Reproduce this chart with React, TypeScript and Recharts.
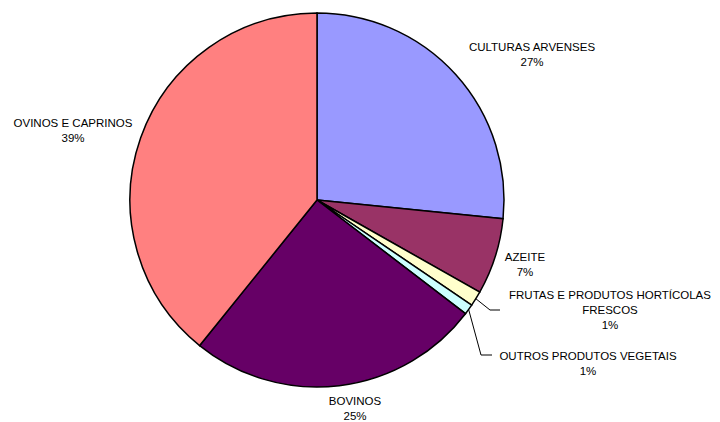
import { PieChart, Pie, Cell } from 'recharts';

const categories = [
  'CULTURAS ARVENSES',
  'AZEITE',
  'FRUTAS E PRODUTOS HORTÍCOLAS\nFRESCOS',
  'OUTROS PRODUTOS VEGETAIS',
  'BOVINOS',
  'OVINOS E CAPRINOS',
];
const shares = [26.6, 6.6, 1.3, 0.9, 25.4, 39.2];

const colors = ['#9999FF', '#993366', '#FFFFCC', '#CCFFFF', '#660066', '#FF8080'];

const data = categories.map((name, i) => ({ name, value: shares[i] }));

// label anchor offsets from pie centre (first-line baseline, text centred)
const labelOffsets = [
  [215, -149],
  [208, 61],
  [293, 99],
  [271, 160],
  [38, 205],
  [-244, -73],
];
// elbow of leader lines for the thin slices
const leaders: Record<number, number[]> = {
  2: [173, 110, 183, 110],
  3: [164, 155, 175, 155],
};

const RAD = Math.PI / 180;

const renderLabel = (props: any) => {
  const { cx, cy, midAngle, outerRadius, index, name, percent } = props;
  const [dx, dy] = labelOffsets[index];
  const lines = String(name).split('\n');
  lines.push(`${Math.round(percent * 100)}%`);
  const leader = leaders[index];
  let path = null;
  if (leader) {
    const sx = cx + outerRadius * Math.cos(-midAngle * RAD);
    const sy = cy + outerRadius * Math.sin(-midAngle * RAD);
    path = (
      <polyline
        points={`${sx},${sy} ${cx + leader[0]},${cy + leader[1]} ${cx + leader[2]},${cy + leader[3]}`}
        fill="none"
        stroke="#000"
        strokeWidth={1}
      />
    );
  }
  return (
    <g key={`lbl-${index}`}>
      {path}
      <text
        x={cx + dx}
        y={cy + dy}
        textAnchor="middle"
        fill="#000"
        fontSize={11.5}
        fontFamily="'Liberation Sans', Arial, sans-serif"
      >
        {lines.map((l, i) => (
          <tspan key={i} x={cx + dx} dy={i === 0 ? 0 : 15}>
            {l}
          </tspan>
        ))}
      </text>
    </g>
  );
};

export default function App() {
  return (
    <div style={{ position: 'absolute', left: 0, top: 0, width: 720, height: 422, background: '#fff' }}>
      <PieChart width={720} height={422} margin={{ top: 0, right: 0, bottom: 0, left: 0 }}>
        <Pie
          data={data}
          dataKey="value"
          nameKey="name"
          cx={317}
          cy={200}
          outerRadius={187}
          startAngle={90}
          endAngle={-270}
          stroke="#000"
          strokeWidth={1.5}
          label={renderLabel}
          labelLine={false}
          isAnimationActive={false}
        >
          {data.map((d, i) => (
            <Cell key={d.name} fill={colors[i]} />
          ))}
        </Pie>
      </PieChart>
    </div>
  );
}
